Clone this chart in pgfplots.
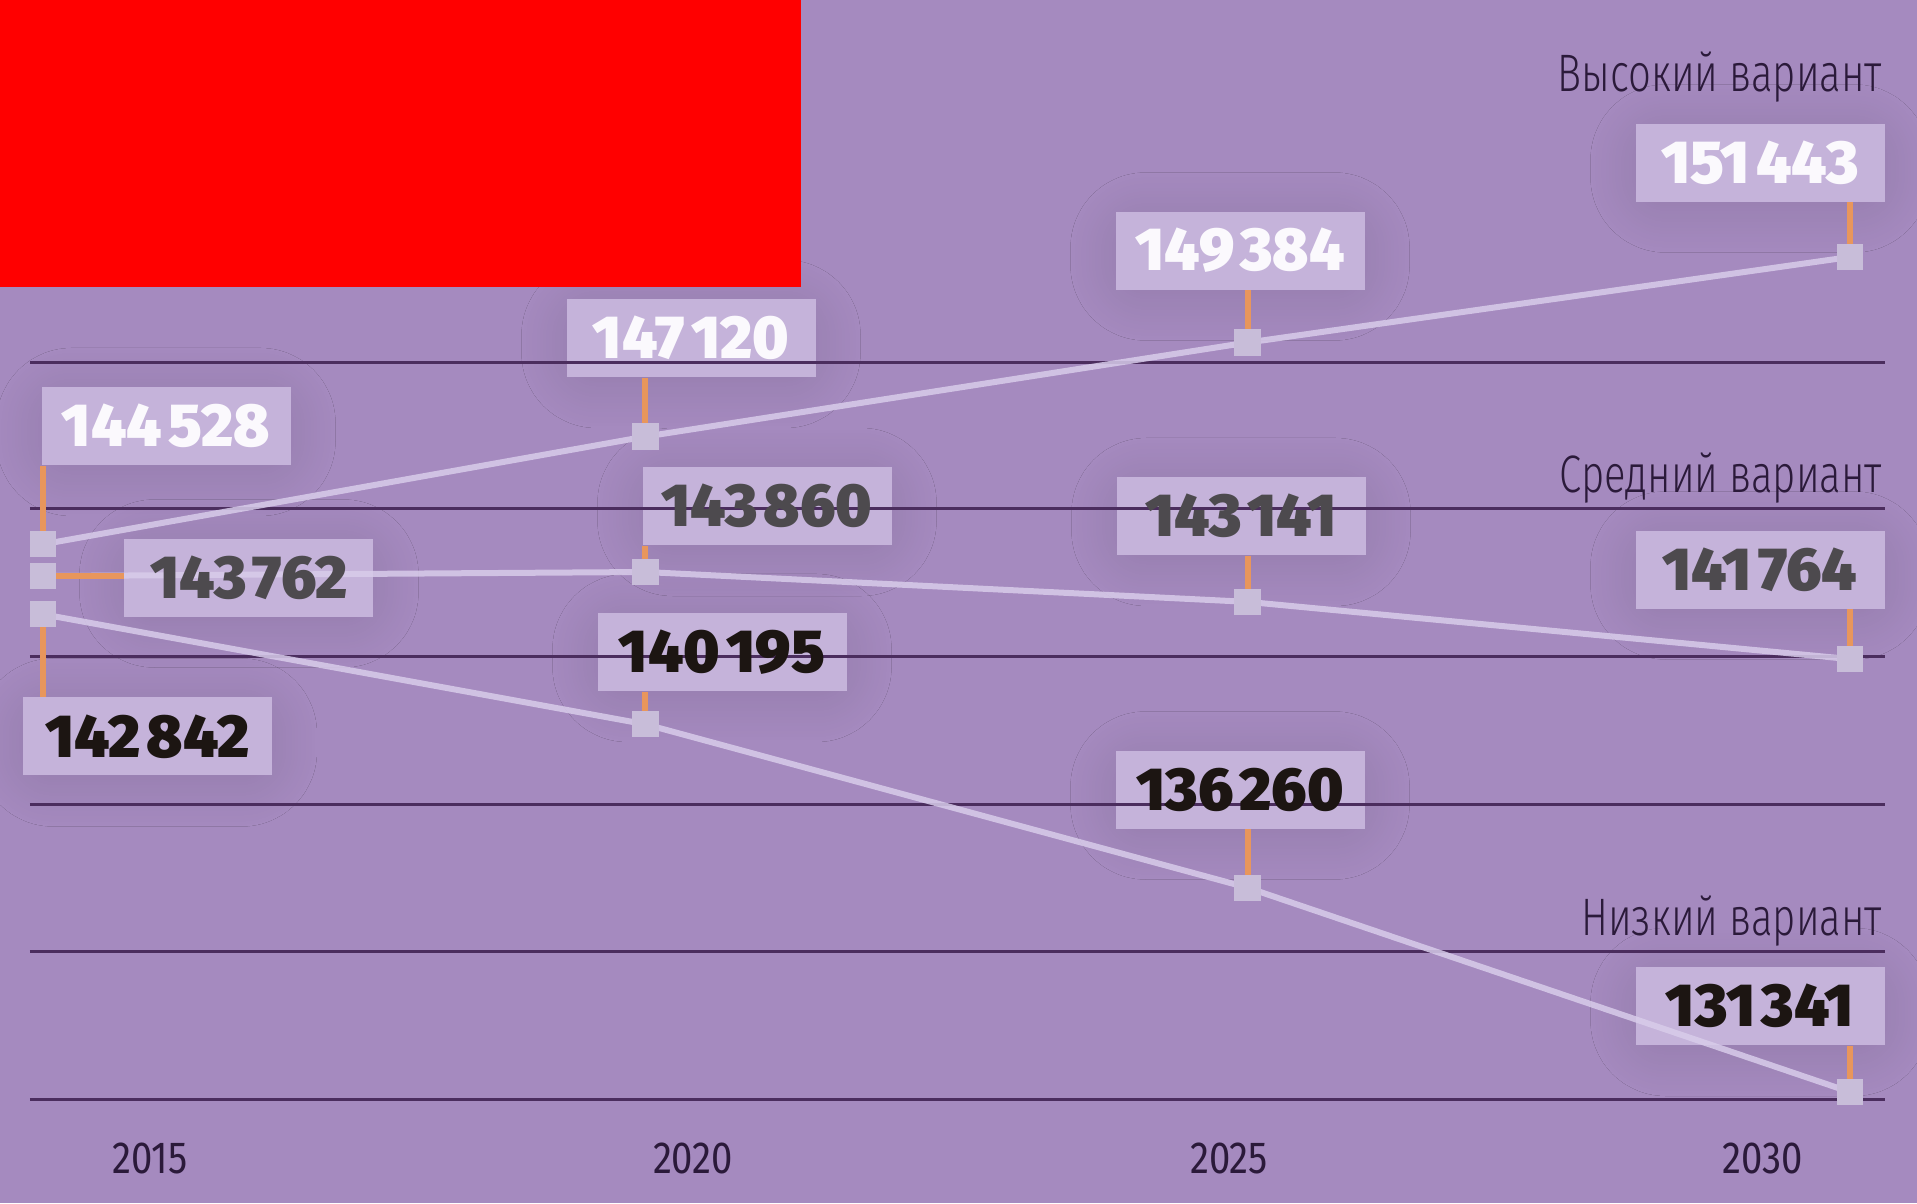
\documentclass[border=0pt]{standalone}
\usepackage{fontspec}
\usepackage{pgfplots}
\pgfplotsset{compat=1.18}
\usetikzlibrary{shadows.blur}
\setmainfont{Fira Sans}
\IfFontExistsTF{Fira Sans Black}{\newfontfamily\numfont[FakeStretch=1.0]{Fira Sans Black}}{\newfontfamily\numfontb[FakeStretch=1.0]{Fira Sans}\newcommand\numfont{\numfontb\bfseries}}
\IfFontExistsTF{Fira Sans Light}{\newfontfamily\lblfont[FakeStretch=0.76]{Fira Sans Light}}{\newfontfamily\lblfont[FakeStretch=0.76]{Fira Sans}}
\newfontfamily\tickfont[FakeStretch=0.85]{Fira Sans}

\definecolor{bg}{HTML}{A58ABF}
\definecolor{boxc}{HTML}{C5B3DA}
\definecolor{gridc}{HTML}{4B2D5E}
\definecolor{linec}{HTML}{D8CCEA}
\definecolor{markc}{HTML}{C8BDD9}
\definecolor{connc}{HTML}{E8965C}
\definecolor{hightxt}{HTML}{FBF9FD}
\definecolor{midtxt}{HTML}{4D4A4E}
\definecolor{lowtxt}{HTML}{1C1512}
\definecolor{txt}{HTML}{2B1A3A}

\tikzset{
  bx/.style={fill=boxc, minimum width=24.9mm, minimum height=7.8mm, inner sep=0pt,
    blur shadow={shadow xshift=0mm, shadow yshift=-0.6mm, shadow blur radius=4.5mm, shadow opacity=11, shadow blur steps=30, shadow blur extra rounding=3mm}},
  num/.style={font={\numfont\fontsize{17.3}{20}\selectfont}, inner sep=0pt},
  conn/.style={draw=connc, line width=0.6mm},
  grd/.style={gridc, line width=0.3mm},
  ser/.style={linec, line width=0.6mm, opacity=0.85},
  sname/.style={font={\lblfont\fontsize{15}{18}\selectfont}, text=txt, anchor=base east, inner sep=0pt}
}
\newcommand\gs{\hspace{0.1em}}

\begin{document}
\begin{tikzpicture}
\begin{axis}[
  width=191.7mm, height=120.3mm, scale only axis,
  xmin=2014.643, xmax=2030.556, ymin=128670, ymax=157630,
  axis line style={draw=none}, major tick style={draw=none},
  axis background/.style={fill=bg},
  ytick=\empty,
  xtick={2015.888,2020.396,2024.845,2029.272},
  xticklabels={2015,2020,2025,2030},
  xticklabel style={anchor=center, yshift=4.5mm, font={\tickfont\fontsize{12.8}{14}\selectfont}, text=txt},
  clip=false
]
% label boxes (background)
\node[bx] (b15h) at (rel axis cs:0.08659,0.64589) {};
\node[bx] (b15m) at (rel axis cs:0.12989,0.51995) {};
\node[bx] (b15l) at (rel axis cs:0.07694,0.38778) {};
\node[bx] (b20h) at (rel axis cs:0.36046,0.71904) {};
\node[bx] (b20m) at (rel axis cs:0.40010,0.57938) {};
\node[bx] (b20l) at (rel axis cs:0.37663,0.45802) {};
\node[bx] (b25h) at (rel axis cs:0.64685,0.79177) {};
\node[bx] (b25m) at (rel axis cs:0.64737,0.57107) {};
\node[bx] (b25l) at (rel axis cs:0.64685,0.34372) {};
\node[bx] (b30h) at (rel axis cs:0.91810,0.86492) {};
\node[bx] (b30m) at (rel axis cs:0.91810,0.52660) {};
\node[bx] (b30l) at (rel axis cs:0.91810,0.16376) {};

% grid lines
\addplot[grd] coordinates {(2014.892,148915) (2030.29,148915)};
\addplot[grd] coordinates {(2014.892,145389) (2030.29,145389)};
\addplot[grd] coordinates {(2014.892,141826) (2030.29,141826)};
\addplot[grd] coordinates {(2014.892,138263) (2030.29,138263)};
\addplot[grd] coordinates {(2014.892,134736) (2030.29,134736)};
\addplot[grd] coordinates {(2014.892,131173) (2030.29,131173)};

% series lines
\addplot[ser] coordinates {(2015,144528) (2020,147120) (2025,149384) (2030,151443)};
\addplot[ser] coordinates {(2015,143762) (2020,143860) (2025,143141) (2030,141764)};
\addplot[ser] coordinates {(2015,142842) (2020,140195) (2025,136260) (2030,131341)};

% connectors
\draw[conn] (axis cs:2015,144528) -- ({axis cs:2015,144528} |- b15h.south);
\draw[conn] (axis cs:2015,143762) -- ({axis cs:2015,143762} -| b15m.west);
\draw[conn] (axis cs:2015,142842) -- ({axis cs:2015,142842} |- b15l.north);
\draw[conn] (axis cs:2020,147120) -- ({axis cs:2020,147120} |- b20h.south);
\draw[conn] (axis cs:2020,143860) -- ({axis cs:2020,143860} |- b20m.south);
\draw[conn] (axis cs:2020,140195) -- ({axis cs:2020,140195} |- b20l.south);
\draw[conn] (axis cs:2025,149384) -- ({axis cs:2025,149384} |- b25h.south);
\draw[conn] (axis cs:2025,143141) -- ({axis cs:2025,143141} |- b25m.south);
\draw[conn] (axis cs:2025,136260) -- ({axis cs:2025,136260} |- b25l.south);
\draw[conn] (axis cs:2030,151443) -- ({axis cs:2030,151443} |- b30h.south);
\draw[conn] (axis cs:2030,141764) -- ({axis cs:2030,141764} |- b30m.south);
\draw[conn] (axis cs:2030,131341) -- ({axis cs:2030,131341} |- b30l.south);

% markers
\addplot[only marks, mark=square*, mark size=1.25mm, color=markc, mark options={solid, fill=markc, draw=markc}]
  coordinates {(2015,144528) (2020,147120) (2025,149384) (2030,151443)
               (2015,143762) (2020,143860) (2025,143141) (2030,141764)
               (2015,142842) (2020,140195) (2025,136260) (2030,131341)};

% value labels
\node[num, text=hightxt] at (b15h.center) {144\gs528};
\node[num, text=midtxt]  at (b15m.center) {143\gs762};
\node[num, text=lowtxt]  at (b15l.center) {142\gs842};
\node[num, text=hightxt] at (b20h.center) {147\gs120};
\node[num, text=midtxt]  at (b20m.center) {143\gs860};
\node[num, text=lowtxt]  at (b20l.center) {140\gs195};
\node[num, text=hightxt] at (b25h.center) {149\gs384};
\node[num, text=midtxt]  at (b25m.center) {143\gs141};
\node[num, text=lowtxt]  at (b25l.center) {136\gs260};
\node[num, text=hightxt] at (b30h.center) {151\gs443};
\node[num, text=midtxt]  at (b30m.center) {141\gs764};
\node[num, text=lowtxt]  at (b30l.center) {131\gs341};

% series names
\node[sname] at (rel axis cs:0.98226,0.92353) {Высокий вариант};
\node[sname] at (rel axis cs:0.98226,0.59019) {Средний вариант};
\node[sname] at (rel axis cs:0.98226,0.22278) {Низкий вариант};

% redaction box
\fill[red] (rel axis cs:0,1) rectangle (rel axis cs:0.41784,0.76143);
\end{axis}
\end{tikzpicture}
\end{document}
